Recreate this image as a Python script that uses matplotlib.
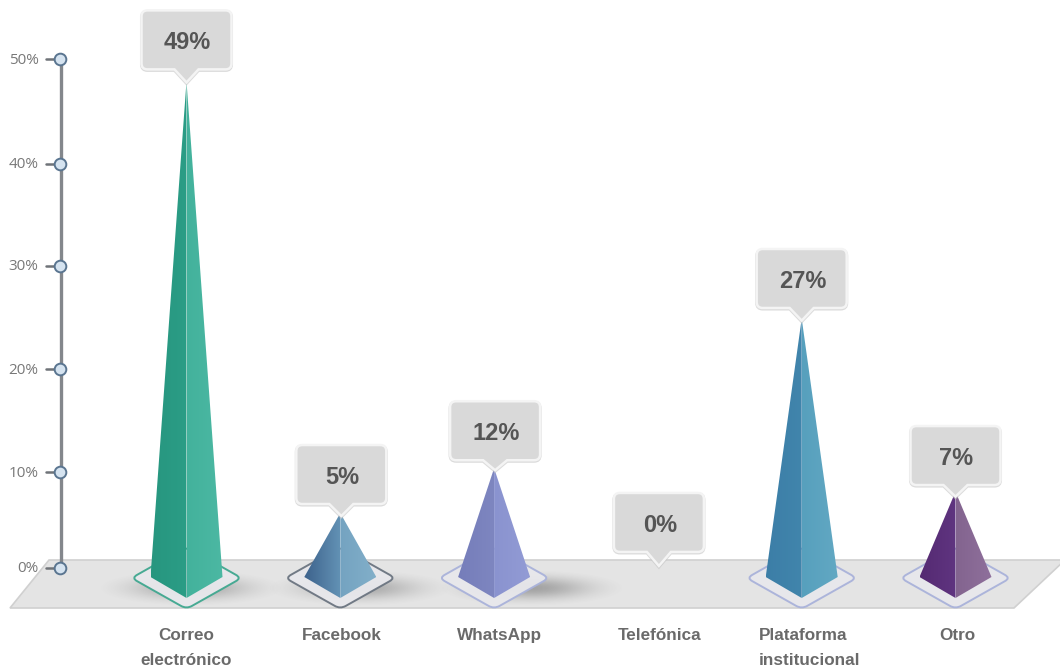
import numpy as np
import matplotlib
matplotlib.use("Agg")
import matplotlib.pyplot as plt
from matplotlib.patches import Polygon, PathPatch
from matplotlib.path import Path
from matplotlib.colors import LinearSegmentedColormap, to_rgb

categories = ["Correo\nelectrónico", "Facebook", "WhatsApp", "Telefónica", "Plataforma\ninstitucional", "Otro"]
labels = ["49%", "5%", "12%", "0%", "27%", "7%"]
peaks = [47.8, 5.4, 9.8, 0.3, 24.5, 7.5]
y_ticks = [0, 10, 20, 30, 40, 50]
y_tick_labels = ["0%", "10%", "20%", "30%", "40%", "50%"]

left_colors = [("#27967f", "#2b9d86"), ("#3d628c", "#6291b4"), ("#757dba", "#7e86c0"),
               None, ("#3c7ea7", "#4185ac"), ("#552a72", "#5f3480")]
right_colors = [("#43b29c", "#4cb8a3"), ("#74a3c1", "#82afc9"), ("#8a93cf", "#929bd5"),
                None, ("#57a0bd", "#62a8c3"), ("#83648f", "#8f709c")]
ring_colors = ["#3fa78f", "#6b7480", "#a9b2da", None, "#a9b2da", "#a9b2da"]
# centre (px offset from category centre), half-width, half-height px, strength
shadows = [(4, 92, 18, .42), (20, 92, 18, .40), (38, 92, 18, .45), None, None, None]

PX_X, PX_Y = 153.8, 10.18          # pixels per category step / per percent
X0, Y0 = 186.5, 568.0              # pixel position of first category and of 0%
W, H = 1060, 670
dx = lambda px: px / PX_X
dy = lambda px: px / PX_Y

fig = plt.figure(figsize=(W / 100, H / 100), dpi=100, facecolor="white")
ax = fig.add_axes([0, 0, 1, 1])
ax.axis("off")
xlim = ((0 - X0) / PX_X, (W - X0) / PX_X)
ylim = ((Y0 - H) / PX_Y, Y0 / PX_Y)


def gradient(poly_pts, c1, c2, z):
    pts = np.array(poly_pts)
    cmap = LinearSegmentedColormap.from_list("g", [c1, c2])
    im = ax.imshow(np.linspace(0, 1, 64)[None, :], cmap=cmap, aspect="auto", zorder=z,
                   extent=(pts[:, 0].min(), pts[:, 0].max(), pts[:, 1].min(), pts[:, 1].max()),
                   origin="lower")
    p = Polygon(pts, closed=True, transform=ax.transData, fc="none", ec="none")
    ax.add_patch(p)
    im.set_clip_path(p)


def rounded_diamond(x, yc, hw, hh, t=0.1):
    """Closed diamond path with softened corners, sizes in pixels."""
    c = np.array([(-hw, 0), (0, -hh), (hw, 0), (0, hh)], float)
    verts, codes = [], []
    for i in range(4):
        p, a, b = c[i], c[i - 1], c[(i + 1) % 4]
        s, e = p + (a - p) * t, p + (b - p) * t
        verts += [tuple(s), tuple(p), tuple(e)]
        codes += [Path.MOVETO if i == 0 else Path.LINETO, Path.CURVE3, Path.CURVE3]
    verts.append(verts[0])
    codes.append(Path.CLOSEPOLY)
    v = np.array(verts)
    return Path(np.column_stack([x + v[:, 0] / PX_X, yc + v[:, 1] / PX_Y]), codes)


# floor
floor = [(xlim[0] + dx(49), dy(8)), (xlim[1] + dx(5), dy(8)), (xlim[0] + dx(1014), dy(-40)), (xlim[0] + dx(10), dy(-40))]
ax.add_patch(Polygon(floor, closed=True, fc="#e4e4e4", ec="#d0d0d0", lw=1.2, zorder=1))

xs = np.arange(len(categories))

# shadows
for x, s in zip(xs, shadows):
    if s is None:
        continue
    off, hw, hh, a = s
    cx, cy = x + dx(off), dy(-20)
    gx, gy = np.meshgrid(np.linspace(-1, 1, 200), np.linspace(-1, 1, 60))
    alpha = np.clip(np.exp(-(gx ** 2 + gy ** 2) * 2.6) - 0.07, 0, 1) * a
    rgba = np.zeros(gx.shape + (4,))
    rgba[..., :3] = to_rgb("#4a4a4a")
    rgba[..., 3] = alpha
    ax.imshow(rgba, aspect="auto", zorder=2,
              extent=(cx - dx(hw), cx + dx(hw), cy - dy(hh), cy + dy(hh)), origin="lower")

# rings and pyramids
for x, peak, lc, rc, ring in zip(xs, peaks, left_colors, right_colors, ring_colors):
    if lc is None:
        continue
    path = rounded_diamond(x, dy(-10), 55, 31)
    ax.add_patch(PathPatch(path, fc="#e8e8ec", ec=ring, lw=1.4, alpha=.95, zorder=3))
    left = [(x - dx(36), dy(-9)), (x, dy(-30)), (x, peak)]
    right = [(x + dx(36), dy(-9)), (x, dy(-30)), (x, peak)]
    gradient(left, lc[0], lc[1], 4)
    gradient(right, rc[0], rc[1], 4)

# value callouts
nudge = [0, 1, 1, 11, 0, 0]
tip_depth = [1, 3, 2, 1, 2, 5]
box_gap = [13, 12, 10, 14, 12.6, 11.6]
for x, peak, lab, n, d, g in zip(xs, peaks, labels, nudge, tip_depth, box_gap):
    tx, ty = x + dx(n), peak + dy(-d)
    bw, r = 45, 6
    bot, top = ty + dy(g), ty + dy(g + 59)
    l, rgt = tx - dx(bw), tx + dx(bw)
    rx, ry = dx(r), dy(r)
    verts = [(tx, ty), (tx + dx(12), bot), (rgt - rx, bot), (rgt, bot), (rgt, bot + ry), (rgt, top - ry),
             (rgt, top), (rgt - rx, top), (l + rx, top), (l, top), (l, top - ry), (l, bot + ry), (l, bot),
             (l + rx, bot), (tx - dx(12), bot), (tx, ty)]
    codes = [Path.MOVETO, Path.LINETO, Path.LINETO, Path.CURVE3, Path.CURVE3, Path.LINETO, Path.CURVE3,
             Path.CURVE3, Path.LINETO, Path.CURVE3, Path.CURVE3, Path.LINETO, Path.CURVE3, Path.CURVE3,
             Path.LINETO, Path.CLOSEPOLY]
    path = Path(verts, codes)
    shadow = Path(np.array(verts) + [dx(0), dy(-1)], codes)
    ax.add_patch(PathPatch(shadow, fc="none", ec="#c4c4c4", lw=2.2, alpha=.6, zorder=5))
    ax.add_patch(PathPatch(path, fc="#d9d9d9", ec="#f4f4f4", lw=1.8, zorder=6))
    ax.text(tx + dx(1), (bot + top) / 2 + dy(-3), lab, ha="center", va="center", fontsize=17, fontweight="bold",
            family="Liberation Sans", color="#555555", zorder=7)

# y axis
axis_x = xlim[0] + dx(60.5)
tick_nudge = [0, -6, -5, -3, -3, 0]
tick_y = [v + dy(n) for v, n in zip(y_ticks, tick_nudge)]
ax.plot([axis_x, axis_x], [tick_y[0], tick_y[-1]], color="#83878c", lw=2.4, zorder=3, solid_capstyle="butt")
for v, t in zip(tick_y, y_tick_labels):
    ax.plot([axis_x - dx(15), axis_x], [v, v], color="#6f7378", lw=1.8, zorder=3, solid_capstyle="round")
    ax.plot([axis_x - dx(1)], [v], "o", ms=8.4, mfc="#d5e3f0", mec="#5a7590", mew=1.4, zorder=4)
    ax.text(axis_x - dx(22), v + dy(-1), t, ha="right", va="center", fontsize=11, family="Open Sans", color="#787878")

# category labels
label_nudge = [0, 2, 5, 12, 8, 2]
aligns = ["center", "center", "center", "center", "left", "center"]
for x, c, n, al in zip(xs, categories, label_nudge, aligns):
    ax.text(x + dx(n), dy(-60), c, ha="center", va="top", fontsize=12.3, fontweight="bold", multialignment=al,
            family="Liberation Sans", color="#6a6a6a", linespacing=1.8, zorder=3)

ax.set_xlim(*xlim)
ax.set_ylim(*ylim)
fig.savefig("out.png", dpi=100, facecolor="white")
